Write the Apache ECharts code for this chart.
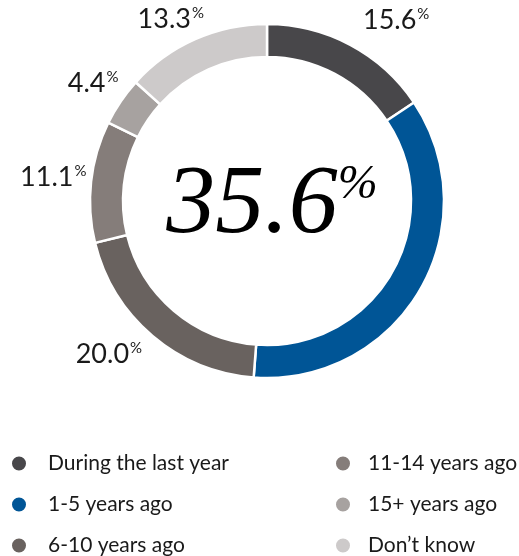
<!DOCTYPE html>
<html><head><meta charset="utf-8">
<script src="https://cdn.jsdelivr.net/npm/echarts@6/dist/echarts.min.js"></script>
<style>html,body{margin:0;padding:0;background:#fff}#c{width:519px;height:556px}</style>
</head><body><div id="c"></div>
<script>
const categories = ['During the last year', '1-5 years ago', '6-10 years ago', '11-14 years ago', '15+ years ago', "Don\u2019t know"];
const values = [15.6, 35.6, 20.0, 11.1, 4.4, 13.3];
const colors = ['#48474a', '#005596', '#69625f', '#857d7a', '#a7a2a0', '#cdcaca'];
const highlightIndex = 1;
const legendCol1 = categories.slice(0, 3);
const legendCol2 = categories.slice(3);

const center = [267, 201];
// small nudges of the outside value labels, as in the original layout
const labelNudge = [[28, 9], [0, 0], [-19, -11], [0, 0], [4, 3], [-9, 15]];
const chart = echarts.init(document.getElementById('c'));
const sans = 'Lato, "Open Sans", sans-serif';
const legendText = { fontFamily: sans, fontSize: 21, fontWeight: 400, color: '#1a1a1a', lineHeight: 20, padding: [0,0,0,16] };
const legendText2 = Object.assign({}, legendText, { padding: [0,0,0,12] });
chart.setOption({
  animation: false,
  legend: [
    { data: legendCol1, orient: 'vertical', left: 10, top: 453, height: 140, padding: 0, itemWidth: 16, itemHeight: 16, itemGap: 20, icon: 'circle',
      selectedMode: false, textStyle: legendText },
    { data: legendCol2, orient: 'vertical', left: 334, top: 453, height: 140, padding: 0, itemWidth: 16, itemHeight: 16, itemGap: 20, icon: 'circle',
      selectedMode: false, textStyle: legendText2 }
  ],
  graphic: [{
    type: 'text', x: center[0] + 5, y: center[1] + 5,
    style: {
      text: '{a|' + values[highlightIndex].toFixed(1) + '}{b|%}',
      align: 'center', verticalAlign: 'middle',
      rich: {
        a: { fontFamily: '"Liberation Serif", "DejaVu Serif", serif', fontStyle: 'italic', fontSize: 98, color: '#000', lineHeight: 100 },
        b: { fontFamily: '"Liberation Serif", "DejaVu Serif", serif', fontStyle: 'italic', fontSize: 48, color: '#000', lineHeight: 50, padding: [0,0,42,0] }
      }
    }
  }],
  series: [
    {
      type: 'pie', center: center, radius: [144, 177], startAngle: 90, clockwise: true,
      silent: true, label: { show: false }, labelLine: { show: false },
      itemStyle: { borderColor: '#fff', borderWidth: 2.5 },
      data: categories.map((n, i) => ({ name: n, value: values[i], itemStyle: { color: colors[i] } }))
    },
    {
      type: 'pie', center: center, radius: [196, 228], startAngle: 90, clockwise: true,
      silent: true, labelLine: { show: false },
      itemStyle: { color: 'rgba(0,0,0,0)' },
      label: {
        show: true, position: 'inside',
        formatter: p => '{v|' + p.value.toFixed(1) + '}{p|%}',
        rich: {
          v: { fontFamily: sans, fontWeight: 400, fontSize: 27, color: '#1a1a1a', lineHeight: 30 },
          p: { fontFamily: sans, fontWeight: 400, fontSize: 15, color: '#1a1a1a', lineHeight: 15, padding: [0,0,12,1] }
        }
      },
      labelLayout: p => ({ dx: labelNudge[p.dataIndex][0], dy: labelNudge[p.dataIndex][1] }),
      data: values.map((v, i) => ({ value: v, label: { show: i !== highlightIndex } }))
    }
  ]
});
</script></body></html>
